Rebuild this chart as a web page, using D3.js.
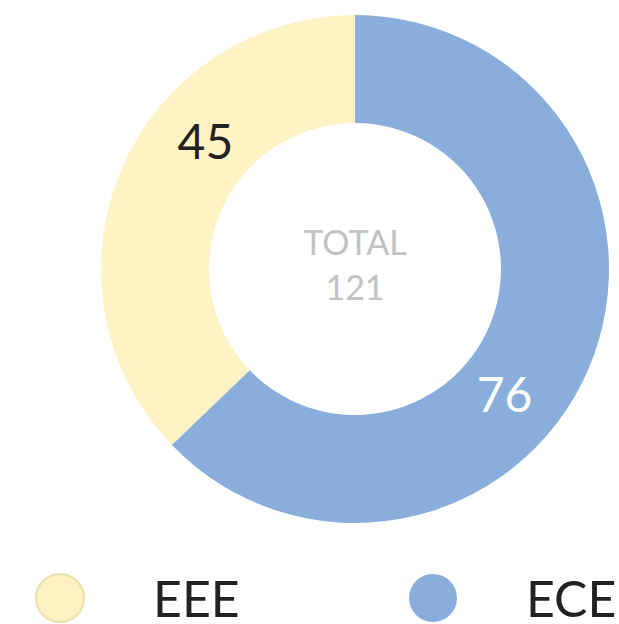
<!DOCTYPE html>
<html>
<head>
<meta charset="utf-8">
<script src="https://cdn.jsdelivr.net/npm/d3@7"></script>
<style>
  body { margin: 0; background: #fff; }
  svg { display: block; font-family: Lato, "Open Sans", sans-serif; }
</style>
</head>
<body>
<script>
// data
var categories = ["EEE", "ECE"];
var values = [45, 76];
var colors = ["#fff2c4", "#8aaedb"];
var labelColors = ["#222222", "#ffffff"];

var width = 619;
var height = 624;
var cx = 355, cy = 269;
var outerRadius = 254;
var innerRadius = 146;

var data = categories.map(function(c, i) { return {name: c, value: values[i], i: i}; });
var total = d3.sum(values);

var svg = d3.select("body")
    .append("svg")
    .attr("width", width)
    .attr("height", height);

// biggest slice first, starting at 12 o'clock
var pie = d3.pie()
    .sort(function(a, b) { return d3.descending(a.value, b.value); })
    .value(function(d) { return d.value; });

var arc = d3.arc()
    .outerRadius(outerRadius)
    .innerRadius(innerRadius);

// labels sit a little clockwise of each slice centre
var labelArc = d3.arc().innerRadius(196).outerRadius(196);
var labelShift = 0.3;

var g = svg.append("g")
    .attr("transform", "translate(" + cx + "," + cy + ")");

var slices = g.selectAll("g.slice")
    .data(pie(data))
    .enter()
    .append("g")
    .attr("class", "slice");

slices.append("path")
    .attr("fill", function(d) { return colors[d.data.i]; })
    .attr("d", arc);

slices.append("text")
    .attr("transform", function(d) {
        var p = labelArc.centroid({startAngle: d.startAngle + labelShift, endAngle: d.endAngle + labelShift});
        return "translate(" + p[0] + "," + p[1] + ")";
    })
    .attr("text-anchor", "middle")
    .attr("dy", "0.34em")
    .attr("font-size", 48)
    .attr("fill", function(d) { return labelColors[d.data.i]; })
    .text(function(d) { return d.data.value; });

// centre total
g.append("text")
    .attr("text-anchor", "middle")
    .attr("y", -14)
    .attr("font-size", 34)
    .attr("fill", "#c2c2c2")
    .text("TOTAL");

g.append("text")
    .attr("text-anchor", "middle")
    .attr("y", 31)
    .attr("font-size", 34)
    .attr("fill", "#c2c2c2")
    .text(total);

// legend
var legendX = d3.scalePoint().domain(categories).range([60, 433]);

var legend = svg.selectAll("g.legend")
    .data(data)
    .enter()
    .append("g")
    .attr("class", "legend")
    .attr("transform", function(d) { return "translate(" + legendX(d.name) + ",598)"; });

legend.append("circle")
    .attr("r", 24)
    .attr("fill", function(d) { return colors[d.i]; })
    .attr("stroke", function(d) { return d.i === 0 ? "#ebe0a8" : "none"; })
    .attr("stroke-width", 2);

legend.append("text")
    .attr("x", 93)
    .attr("y", 19)
    .attr("font-size", 50)
    .attr("fill", "#222222")
    .text(function(d) { return d.name; });
</script>
</body>
</html>
